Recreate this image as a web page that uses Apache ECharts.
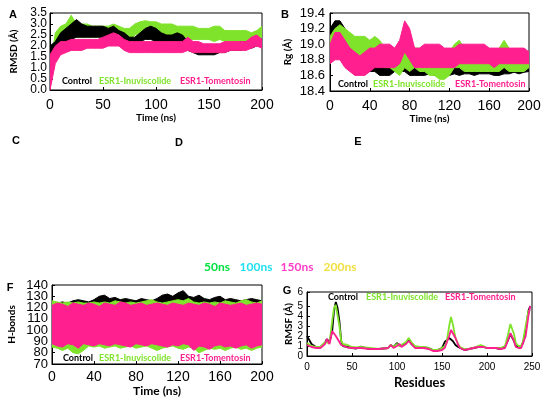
<!DOCTYPE html>
<html>
<head>
<meta charset="utf-8">
<script src="https://cdn.jsdelivr.net/npm/echarts@6/dist/echarts.min.js"></script>
<style>html,body{margin:0;padding:0;background:#fff}#c{width:550px;height:403px}</style>
</head>
<body>
<div id="c"></div>
<script>
// ---------- DATA ----------
const SERIES_NAMES = ['Control', 'ESR1-Inuviscolide', 'ESR1-Tomentosin'];
const NS_LABELS = ['50ns', '100ns', '150ns', '200ns'];
// time samples (ns) for envelopes
const T = [0,5,10,15,20,25,30,35,40,45,
           50,55,60,65,70,75,80,85,90,95,
           100,105,110,115,120,125,130,135,140,145,
           150,155,160,165,170,175,180,185,190,195,
           200];
// Panel A RMSD (Å): upper / lower envelope
const A_CTRL_HI = [2.0,2.2,2.6,2.8,3.0,3.2,3.0,2.9,2.9,2.9, 2.9,2.8,2.9,2.7,2.6,2.4,2.4,2.6,2.8,2.9, 2.8,2.6,2.5,2.5,2.6,2.5,2.2,2.1,2.0,2.0, 1.9,2.0,2.0,2.1,2.1,2.1,2.2,2.2,2.3,2.3, 2.3];
const A_CTRL_LO = [1.2,1.5,2.0,2.2,2.3,2.4,2.4,2.4,2.4,2.4, 2.4,2.3,2.2,2.1,2.0,1.9,1.9,2.2,2.3,2.3, 2.2,2.0,2.0,2.1,2.1,2.0,1.8,1.7,1.6,1.6, 1.6,1.6,1.7,1.7,1.8,1.8,1.8,1.9,1.9,2.0, 2.0];
const A_INUV_HI = [1.0,2.6,2.9,3.0,3.4,3.0,3.0,3.0,2.9,2.9, 2.9,2.9,3.0,2.9,2.8,2.8,3.0,3.1,3.15,3.1, 3.1,3.0,3.0,3.0,2.9,2.9,2.9,2.9,2.8,2.8, 2.8,2.9,2.9,2.7,2.7,2.7,2.7,2.7,2.6,2.7, 2.9];
const A_INUV_LO = [0.8,1.8,2.2,2.4,2.4,2.4,2.4,2.4,2.4,2.4, 2.4,2.4,2.3,2.2,2.1,2.2,2.5,2.6,2.6,2.6, 2.5,2.5,2.5,2.4,2.3,2.3,2.3,2.3,2.3,2.3, 2.3,2.2,2.3,2.2,2.2,2.2,2.2,2.2,2.2,2.3, 2.4];
const A_TOM_HI = [1.6,2.0,2.2,2.2,2.3,2.3,2.3,2.3,2.3,2.3, 2.4,2.5,2.6,2.5,2.3,2.2,2.2,2.2,2.2,2.2, 2.2,2.2,2.2,2.2,2.2,2.2,2.4,2.2,2.2,2.1, 2.1,2.1,2.1,2.2,2.2,2.2,2.2,2.2,2.4,2.5, 2.3];
const A_TOM_LO = [0.0,1.2,1.6,1.7,1.8,1.8,1.8,1.9,1.9,1.9, 1.9,2.0,2.0,2.0,1.8,1.7,1.7,1.7,1.7,1.7, 1.7,1.7,1.7,1.7,1.7,1.7,1.8,1.7,1.7,1.7, 1.7,1.7,1.7,1.7,1.8,1.8,1.8,1.8,1.9,2.0, 1.9];
// Panel B Rg (Å)
const B_CTRL_HI = [19.2,19.3,19.3,19.2,19.1,19.0,18.9,18.9,18.9,18.9, 18.85,18.85,18.85,18.9,18.9,18.9,18.85,18.85,18.85,18.85, 18.85,18.85,18.85,18.85,18.85,18.85,18.85,18.8,18.85,18.85, 18.8,18.8,18.85,18.85,18.8,18.8,18.8,18.85,18.85,18.8, 18.8];
const B_CTRL_LO = [18.9,18.9,18.9,18.85,18.8,18.7,18.65,18.65,18.65,18.65, 18.6,18.6,18.6,18.65,18.65,18.65,18.6,18.6,18.6,18.6, 18.62,18.6,18.62,18.62,18.6,18.62,18.6,18.62,18.62,18.6, 18.62,18.62,18.62,18.6,18.6,18.62,18.62,18.64,18.62,18.64, 18.65];
const B_INUV_HI = [19.1,19.2,19.25,19.2,19.15,19.1,19.1,19.1,19.05,19.1, 19.05,18.95,18.95,18.9,18.9,19.0,18.9,18.95,18.95,18.9, 18.9,18.9,18.85,18.85,18.9,19.0,19.05,18.95,18.95,18.9, 18.9,18.9,18.9,18.9,18.95,19.05,18.95,18.9,18.9,18.9, 18.9];
const B_INUV_LO = [18.85,18.9,18.95,18.95,18.9,18.85,18.85,18.8,18.8,18.8, 18.75,18.7,18.7,18.65,18.6,18.7,18.65,18.7,18.65,18.65, 18.6,18.6,18.55,18.55,18.6,18.7,18.7,18.65,18.65,18.65, 18.65,18.65,18.65,18.65,18.65,18.7,18.65,18.65,18.65,18.65, 18.7];
const B_TOM_HI = [19.0,19.15,19.15,19.05,18.95,18.9,18.85,18.9,18.95,18.95, 19.0,19.0,19.0,18.95,19.05,19.3,19.2,18.95,18.95,19.0, 19.0,19.0,19.0,18.95,18.95,18.95,19.0,19.0,19.0,19.0, 19.0,19.0,18.95,18.95,18.95,18.95,18.95,18.95,18.95,18.95, 18.9];
const B_TOM_LO = [18.75,18.8,18.8,18.7,18.65,18.6,18.6,18.6,18.65,18.7, 18.7,18.7,18.7,18.7,18.75,18.9,18.8,18.7,18.7,18.7, 18.7,18.7,18.7,18.7,18.7,18.7,18.75,18.75,18.75,18.75, 18.75,18.75,18.75,18.7,18.75,18.75,18.75,18.75,18.75,18.75, 18.75];
// Panel F H-bonds
const F_CTRL_HI = [125,124,125,124,126,127,126,125,127,130, 131,128,129,127,128,127,126,128,127,126, 128,131,132,130,133,135,130,129,131,128, 127,129,130,127,128,127,126,127,128,127, 126];
const F_CTRL_LO = [94,95,93,92,90,88,92,94,95,94, 93,95,94,95,96,95,94,95,96,95, 96,95,96,97,96,95,96,95,94,95, 94,95,94,95,94,93,94,95,94,95, 94];
const F_INUV_HI = [126,125,124,125,124,125,124,124,125,124, 125,124,126,125,124,125,124,125,126,127, 125,124,125,126,127,126,128,125,124,125, 124,125,124,126,125,124,126,127,125,124, 126];
const F_INUV_LO = [85,84,82,84,80,79,82,86,85,86, 84,85,86,84,85,86,84,85,86,84, 82,84,85,86,84,83,85,84,80,82, 84,83,84,82,84,85,83,84,82,84, 85];
const F_TOM_HI = [122,124,123,121,124,123,122,124,123,121, 124,123,122,125,124,122,123,124,122,123, 124,123,122,124,123,122,124,123,122,124, 123,121,124,123,122,123,124,122,123,124, 123];
const F_TOM_LO = [88,86,85,88,87,84,88,87,86,88, 87,86,88,87,86,85,88,87,86,88, 87,86,85,87,86,88,87,82,86,85, 83,86,87,85,86,84,86,87,84,86, 87];
// Panel G RMSF (Å) per residue
const RES = [0,2,5,10,15,20,22,25,28,30, 32,34,36,38,40,45,50,55,60,65, 70,80,90,93,96,100,103,105,110,113, 116,120,125,130,135,140,145,150,153,155, 158,160,162,165,168,170,175,180,185,190, 193,196,200,205,210,215,220,223,226,228, 230,232,235,238,240,243,246,248];
const G_CTRL = [2.0,1.8,1.2,0.9,0.9,1.3,1.7,1.4,2.5,4.5, 5.4,4.8,3.5,1.5,1.0,0.9,0.8,0.75,0.95,0.8, 0.7,0.7,0.8,1.1,0.9,1.3,1.0,1.1,1.3,1.6, 1.2,0.9,0.8,0.85,0.8,0.6,0.6,0.8,1.4,1.6, 1.8,1.7,1.5,1.1,0.9,0.8,0.6,0.7,0.8,0.9, 0.95,0.9,0.8,0.8,0.8,0.7,0.9,1.5,2.2,2.3, 1.5,1.0,0.9,1.0,1.3,2.5,4.5,5.0];
const G_INUV = [1.3,1.2,1.0,0.9,0.9,1.4,1.6,1.3,3.5,4.8, 5.1,4.9,3.0,1.5,1.2,1.1,0.9,0.85,0.9,0.85, 0.8,0.7,0.8,1.1,0.9,1.2,1.0,1.2,1.4,1.8, 1.4,1.0,0.9,0.9,0.8,0.6,0.6,0.8,1.0,1.3, 3.0,3.9,3.2,1.8,1.2,0.9,0.7,0.7,0.8,1.0, 1.1,1.0,0.8,0.8,0.8,0.8,1.0,2.0,3.2,3.4, 2.2,1.3,1.0,1.0,1.5,3.0,4.5,4.6];
const G_TOM = [1.1,1.0,0.9,0.8,0.8,1.2,1.7,1.2,2.5,2.6, 2.0,1.7,1.4,1.1,0.9,0.85,0.8,0.8,0.8,0.75, 0.7,0.7,0.8,1.1,0.8,1.0,1.2,0.9,1.2,1.5, 1.2,0.8,0.8,0.8,0.7,0.5,0.5,0.6,0.8,1.0, 2.0,2.6,2.7,1.8,1.1,0.8,0.6,0.7,0.8,0.9, 0.9,0.9,0.8,0.8,0.8,0.7,0.8,1.5,2.3,2.4, 1.5,0.9,0.8,0.8,0.9,2.0,4.0,5.0];

// ---------- STYLE ----------
const C_CTRL = '#000000', C_INUV = '#7fe32b', C_TOM = '#ff1f8e';
const NS_COLORS = ['#00e040', '#1ee0f0', '#ff3dc8', '#f0e040'];
const NUM_FONT = 'Liberation Sans';
const LBL_FONT = 'Lato';

function rows(t, lo, hi) { return t.map((x, i) => [x, lo[i], hi[i]]); }
function pairs(x, y) { return x.map((v, i) => [v, y[i]]); }

function xAx(idx, max, interval, name, lblSize, nameSize, nameGap, margin) {
  return {
    type: 'value', gridIndex: idx, min: 0, max: max, interval: interval,
    name: name, nameLocation: 'middle', nameGap: nameGap,
    nameTextStyle: {fontFamily: LBL_FONT, fontWeight: 'bold', fontSize: nameSize, color: '#000'},
    axisLine: {show: true, lineStyle: {color: '#000', width: 1}},
    axisTick: {show: true, inside: true, length: 3, lineStyle: {color: '#000'}},
    axisLabel: {fontFamily: NUM_FONT, fontSize: lblSize, color: '#000', margin: margin,
      showMinLabel: true, showMaxLabel: true, hideOverlap: false},
    splitLine: {show: false}
  };
}
// parity: null = all ticks labelled, 0 = even-index ticks only, 1 = odd-index ticks only
function yAx(idx, min, max, interval, dec, name, lblSize, nameSize, nameGap, margin, parity) {
  const primary = parity !== 1;
  return {
    type: 'value', gridIndex: idx, min: min, max: max, interval: interval, position: 'left',
    name: primary ? name : '', nameLocation: 'middle', nameGap: nameGap,
    nameTextStyle: {fontFamily: LBL_FONT, fontWeight: 'bold', fontSize: nameSize, color: '#000'},
    axisLine: {show: primary, lineStyle: {color: '#000', width: 1}},
    axisTick: {show: primary, inside: true, length: 3, lineStyle: {color: '#000'}},
    axisLabel: {fontFamily: NUM_FONT, fontSize: lblSize, color: '#000', margin: margin,
      showMinLabel: true, showMaxLabel: true, hideOverlap: false,
      formatter: function (v) {
        if (parity == null) return (+v).toFixed(dec);
        const k = Math.round((v - min) / interval);
        return (k % 2 === parity) ? (+v).toFixed(dec) : '';
      }},
    splitLine: {show: false}
  };
}
// filled envelope between lower and upper values, drawn once as a polygon
function bandSeries(name, xIdx, yIdx, lo, hi, color) {
  const data = rows(T, lo, hi);
  return {
    type: 'custom', name: name, xAxisIndex: xIdx, yAxisIndex: yIdx, silent: true,
    data: data,
    encode: {x: 0, y: [1, 2]},
    renderItem: function (params, api) {
      if (params.dataIndex !== 0) return null;
      const pts = [];
      data.forEach(d => pts.push(api.coord([d[0], d[2]])));
      for (let i = data.length - 1; i >= 0; i--) pts.push(api.coord([data[i][0], data[i][1]]));
      const cs = params.coordSys;
      return {type: 'polygon', shape: {points: pts},
        clipPath: {type: 'rect', shape: {x: cs.x, y: cs.y, width: cs.width, height: cs.height}},
        style: {fill: color, stroke: color, lineWidth: 1}};
    }
  };
}
function lineSeries(name, xIdx, yIdx, x, y, color) {
  return {type: 'line', name: name, xAxisIndex: xIdx, yAxisIndex: yIdx,
    data: pairs(x, y), showSymbol: false, silent: true,
    lineStyle: {width: 1.8, color: color}, itemStyle: {color: color}, clip: true};
}
function txt(text, x, y, color, font, align) {
  return {type: 'text', z: 100, style: {text: text, x: x, y: y, fill: color, font: font,
    textAlign: align || 'left', textVerticalAlign: 'middle'}};
}
function legendTexts(x0, x1, x2, y) {
  const f = 'bold 9px ' + LBL_FONT;
  return [txt(SERIES_NAMES[0], x0, y, C_CTRL, f), txt(SERIES_NAMES[1], x1, y, C_INUV, f),
          txt(SERIES_NAMES[2], x2, y, C_TOM, f)];
}

const gridStyle = {show: true, borderColor: '#000', borderWidth: 1, backgroundColor: 'transparent'};
const nsCenters = [217, 256, 297, 340];

// y axis indices: 0,1 = A (even/odd labels), 2 = B, 3,4 = F (even/odd labels), 5 = G
const option = {
  animation: false,
  backgroundColor: '#fff',
  grid: [
    Object.assign({left: 50, top: 13, width: 212, height: 77}, gridStyle),
    Object.assign({left: 330, top: 13, width: 199, height: 78}, gridStyle),
    Object.assign({left: 52, top: 285, width: 210, height: 79}, gridStyle),
    Object.assign({left: 307, top: 292, width: 225, height: 64}, gridStyle)
  ],
  xAxis: [
    xAx(0, 200, 50, 'Time (ns)', 14, 10, 21, 8),
    xAx(1, 200, 40, 'Time (ns)', 14, 10, 21, 8),
    xAx(2, 200, 40, 'Time (ns)', 14, 12, 19, 6),
    xAx(3, 250, 50, 'Residues', 10, 13, 20, 6)
  ],
  yAxis: [
    yAx(0, 0, 3.5, 0.5, 1, 'RMSD (Å)', 12, 10, 31, 3, 0),
    yAx(0, 0, 3.5, 0.5, 1, 'RMSD (Å)', 12, 10, 31, 3, 1),
    yAx(1, 18.4, 19.4, 0.2, 1, 'Rg (Å)', 13, 10, 37, 5, null),
    yAx(2, 70, 140, 10, 0, 'H-bonds', 13, 10, 35, 4, 0),
    yAx(2, 70, 140, 10, 0, 'H-bonds', 13, 10, 35, 4, 1),
    yAx(3, 0, 6.4, 1, 0, 'RMSF (Å)', 10, 10, 12, 4, null)
  ],
  series: [
    bandSeries(SERIES_NAMES[1], 0, 0, A_INUV_LO, A_INUV_HI, C_INUV),
    bandSeries(SERIES_NAMES[0], 0, 0, A_CTRL_LO, A_CTRL_HI, C_CTRL),
    bandSeries(SERIES_NAMES[2], 0, 0, A_TOM_LO, A_TOM_HI, C_TOM),
    bandSeries(SERIES_NAMES[0], 1, 2, B_CTRL_LO, B_CTRL_HI, C_CTRL),
    bandSeries(SERIES_NAMES[1], 1, 2, B_INUV_LO, B_INUV_HI, C_INUV),
    bandSeries(SERIES_NAMES[2], 1, 2, B_TOM_LO, B_TOM_HI, C_TOM),
    bandSeries(SERIES_NAMES[0], 2, 3, F_CTRL_LO, F_CTRL_HI, C_CTRL),
    bandSeries(SERIES_NAMES[1], 2, 3, F_INUV_LO, F_INUV_HI, C_INUV),
    bandSeries(SERIES_NAMES[2], 2, 3, F_TOM_LO, F_TOM_HI, C_TOM),
    lineSeries(SERIES_NAMES[0], 3, 5, RES, G_CTRL, C_CTRL),
    lineSeries(SERIES_NAMES[1], 3, 5, RES, G_INUV, C_INUV),
    lineSeries(SERIES_NAMES[2], 3, 5, RES, G_TOM, C_TOM)
  ],
  graphic: [].concat(
    [txt('A', 13, 15, '#000', 'bold 11px ' + NUM_FONT, 'center'),
     txt('B', 285, 15, '#000', 'bold 11px ' + NUM_FONT, 'center'),
     txt('C', 16, 141, '#000', 'bold 11px ' + NUM_FONT, 'center'),
     txt('D', 179, 143, '#000', 'bold 11px ' + NUM_FONT, 'center'),
     txt('E', 358, 142, '#000', 'bold 11px ' + NUM_FONT, 'center'),
     txt('F', 10, 288, '#000', 'bold 11px ' + NUM_FONT, 'center'),
     txt('G', 287, 291, '#000', 'bold 11px ' + NUM_FONT, 'center')],
    NS_LABELS.map((s, i) => txt(s, nsCenters[i], 267, NS_COLORS[i], 'bold 12px ' + LBL_FONT, 'center')),
    legendTexts(62, 99, 180, 81),
    legendTexts(338, 373, 455, 84),
    legendTexts(63, 99, 180, 358),
    legendTexts(328, 366, 445, 297)
  )
};
const chart = echarts.init(document.getElementById('c'));
chart.setOption(option);
</script>
</body>
</html>
